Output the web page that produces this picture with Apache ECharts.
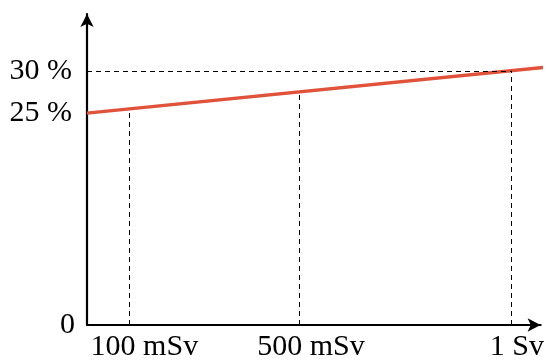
<!DOCTYPE html>
<html>
<head>
<meta charset="utf-8">
<script src="https://cdn.jsdelivr.net/npm/echarts@6/dist/echarts.min.js"></script>
<style>html,body{margin:0;padding:0;background:#fff;}#c{width:547px;height:362px;}</style>
</head>
<body>
<div id="c"></div>
<script>
// dose in mSv (x), risk in % (y)
const lineDose = [0, 1078];
const lineRisk = [25, 30.39];
const markDose = [100, 500, 1000];
const markRisk = [25.5, 27.5, 30];
const xTickLabels = ['100 mSv', '500 mSv', '1 Sv'];
const yTickValues = [0, 25, 30];
const yTickLabels = ['0', '25 %', '30 %'];

const font = 'Liberation Serif';
const W = 547, H = 362;
const G = {left: 87, right: 6, top: 14, bottom: 36};
const X_MAX = 1070, Y_MAX = 36.7;
// horizontal pixel nudges of the x labels (label centres sit a bit right of the ticks)
const xLabelNudgePx = [15, 12, 6];
const pxPerUnit = (W - G.left - G.right) / X_MAX;
const xLabelAt = markDose.map((d, i) => d + xLabelNudgePx[i] / pxPerUnit);

const vLines = markDose.map((d, i) => [
  {coord: [d, 0]}, {coord: [d, markRisk[i]]}
]);
const hLine = [{coord: [0, markRisk[2]]}, {coord: [markDose[2], markRisk[2]]}];

const chart = echarts.init(document.getElementById('c'), null, {renderer: 'canvas'});
chart.setOption({
  animation: false,
  grid: G,
  xAxis: {
    type: 'value', min: 0, max: X_MAX,
    splitLine: {show: false},
    axisTick: {show: false},
    axisLine: {show: true, lineStyle: {color: '#000', width: 2.2}, symbol: ['none', 'arrow'], symbolSize: [10, 13]},
    axisLabel: {
      customValues: xLabelAt,
      margin: 7,
      fontFamily: font, fontSize: 30, color: '#000',
      formatter: (v) => xTickLabels[xLabelAt.indexOf(v)]
    }
  },
  yAxis: {
    type: 'value', min: 0, max: Y_MAX,
    splitLine: {show: false},
    axisTick: {show: false},
    axisLine: {show: true, lineStyle: {color: '#000', width: 2.2}, symbol: ['none', 'arrow'], symbolSize: [10, 13]},
    axisLabel: {
      customValues: yTickValues,
      margin: 12,
      align: 'right',
      alignMinLabel: 'right',
      verticalAlign: 'middle',
      color: '#000',
      formatter: (v) => {
        const i = yTickValues.indexOf(v);
        return (i === 0 ? '{z|' : '{p|') + yTickLabels[i] + '}';
      },
      rich: {
        z: {fontFamily: font, fontSize: 30, color: '#000'},
        p: {fontFamily: font, fontSize: 30, color: '#000', padding: [0, 3, 0, 0]}
      }
    }
  },
  series: [{
    type: 'line',
    data: lineDose.map((d, i) => [d, lineRisk[i]]),
    showSymbol: false,
    clip: false,
    lineStyle: {color: '#e0523a', width: 3.4},
    z: 3,
    markLine: {
      silent: true,
      symbol: ['none', 'none'],
      label: {show: false},
      lineStyle: {color: '#000', width: 1, type: [5, 4]},
      data: vLines.concat([hLine])
    }
  }]
});
</script>
</body>
</html>
